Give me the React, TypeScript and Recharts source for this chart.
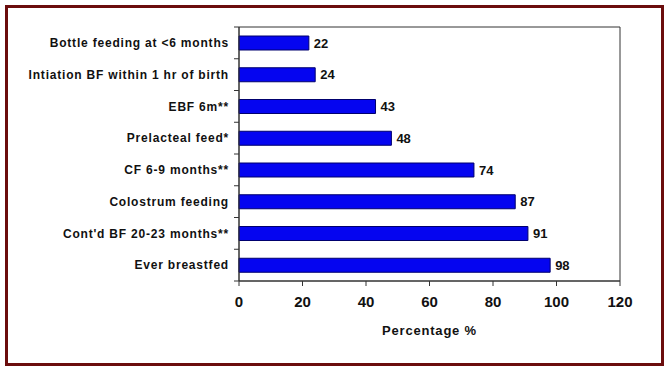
import React from 'react';
import { BarChart, Bar, XAxis, YAxis, LabelList, ReferenceArea } from 'recharts';

const categories = [
  'Bottle feeding at <6 months',
  'Intiation BF within 1 hr of birth',
  'EBF 6m**',
  'Prelacteal feed*',
  'CF 6-9 months**',
  'Colostrum feeding',
  "Cont'd BF 20-23 months**",
  'Ever breastfed',
];
const percentages = [22, 24, 43, 48, 74, 87, 91, 98];
const xTicks = [0, 20, 40, 60, 80, 100, 120];

const data = categories.map((name, i) => ({ name, value: percentages[i] }));

const W = 666;
const H = 371;
const MARGIN = { top: 27, right: 46, left: 0, bottom: 30 };
const X_AXIS_H = 60;
const Y_AXIS_W = 239;
const TICK_SIZE = 5;
const TICK_MARGIN = 5;
const BAND = (H - MARGIN.top - MARGIN.bottom - X_AXIS_H) / categories.length;

const FONT = '"Liberation Sans", Arial, sans-serif';
const AXIS_COLOR = '#333';

// category labels + tick marks sitting on the band edges, like the original
const CategoryTick = (props: any) => {
  const { x, y, payload, index } = props;
  const ax = x + TICK_SIZE + TICK_MARGIN;
  const last = index === categories.length - 1;
  return (
    <g>
      <line x1={ax} x2={ax - TICK_SIZE} y1={y - BAND / 2} y2={y - BAND / 2} stroke={AXIS_COLOR} />
      {last && (
        <line x1={ax} x2={ax - TICK_SIZE} y1={y + BAND / 2} y2={y + BAND / 2} stroke={AXIS_COLOR} />
      )}
      <text
        x={x}
        y={y}
        dy="0.36em"
        textAnchor="end"
        fill="#111"
        fontFamily={FONT}
        fontWeight="bold"
        fontSize={12}
        letterSpacing={0.8}
      >
        {payload.value}
      </text>
    </g>
  );
};

const App: React.FC = () => {
  return (
    <div style={{ position: 'absolute', left: 0, top: 0, width: W, height: H, background: '#fff' }}>
      <div
        style={{
          position: 'absolute',
          left: 5,
          top: 5,
          width: 659,
          height: 361,
          boxSizing: 'border-box',
          border: '3px solid #6b0d0d',
        }}
      />
      <div style={{ position: 'absolute', left: 0, top: 0 }}>
        <BarChart width={W} height={H} data={data} layout="vertical" margin={MARGIN}>
          <XAxis
            type="number"
            domain={[0, 120]}
            ticks={xTicks}
            height={X_AXIS_H}
            tickSize={TICK_SIZE}
            tickMargin={10}
            axisLine={{ stroke: AXIS_COLOR }}
            tickLine={{ stroke: AXIS_COLOR }}
            tick={{ fill: '#111', fontFamily: FONT, fontWeight: 'bold', fontSize: 15 }}
            label={{
              value: 'Percentage %',
              position: 'insideBottom',
              offset: 6,
              fill: '#111',
              fontFamily: FONT,
              fontWeight: 'bold',
              fontSize: 13,
              letterSpacing: 0.8,
            }}
          />
          <YAxis
            type="category"
            dataKey="name"
            width={Y_AXIS_W}
            tickSize={TICK_SIZE}
            tickMargin={TICK_MARGIN}
            tickLine={false}
            axisLine={{ stroke: AXIS_COLOR }}
            interval={0}
            tick={<CategoryTick />}
          />
          <ReferenceArea
            x1={0}
            x2={120}
            y1={categories[0]}
            y2={categories[categories.length - 1]}
            fill="none"
            stroke={AXIS_COLOR}
            strokeWidth={1}
          />
          <Bar dataKey="value" fill="#0505f0" stroke="#00006e" strokeWidth={1} barSize={14} isAnimationActive={false}>
            <LabelList
              dataKey="value"
              position="right"
              offset={5}
              fill="#111"
              fontFamily={FONT}
              fontWeight="bold"
              fontSize={13}
            />
          </Bar>
        </BarChart>
      </div>
    </div>
  );
};

export default App;
